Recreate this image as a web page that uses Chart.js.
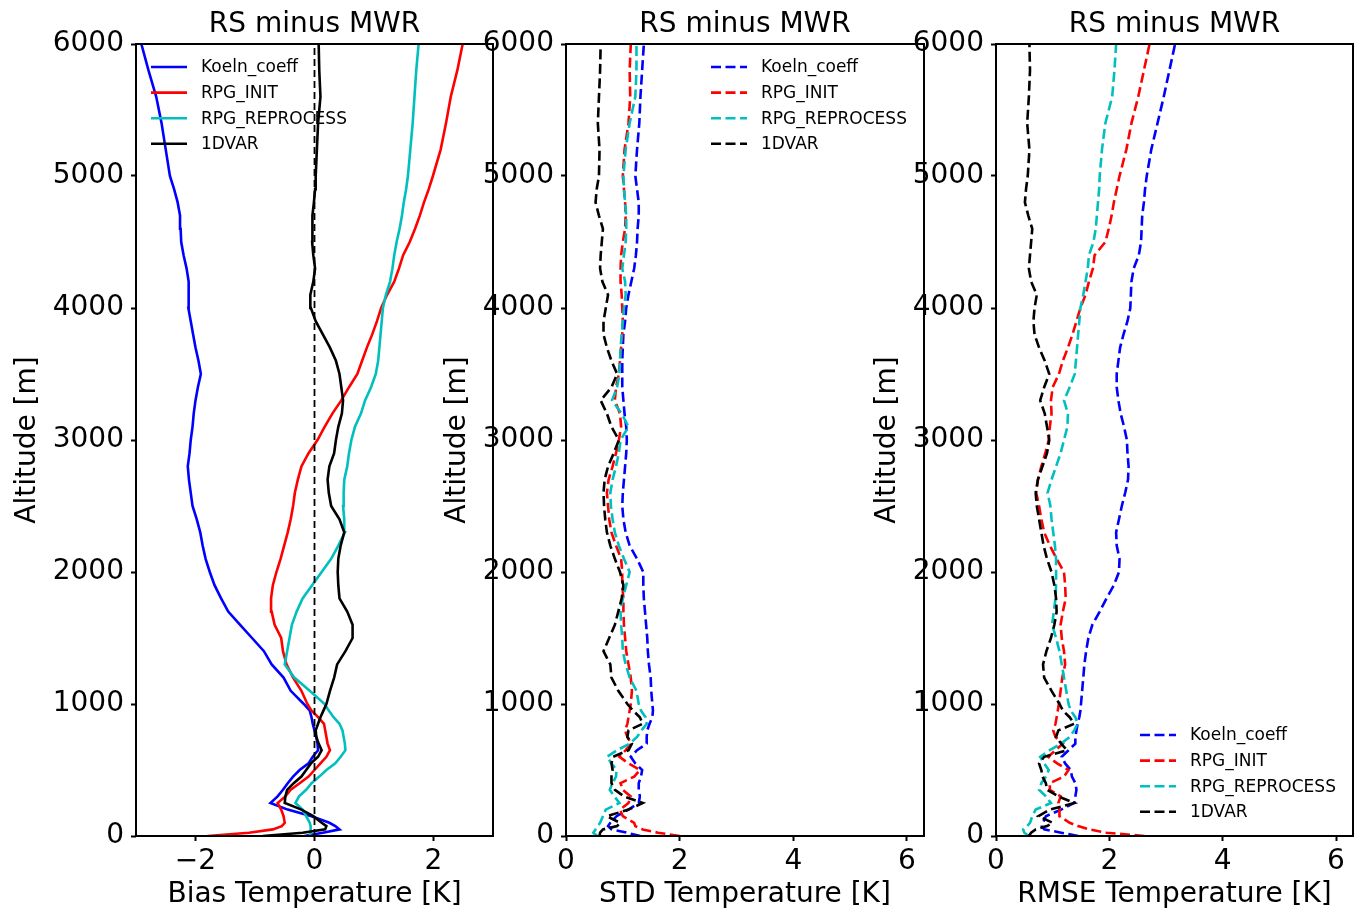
<!DOCTYPE html>
<html>
<head>
<meta charset="utf-8">
<script src="https://cdn.jsdelivr.net/npm/chart.js@4.4.0/dist/chart.umd.min.js"></script>
<style>
  html, body { margin: 0; padding: 0; background: #fff; }
  #wrap { position: relative; width: 1354px; height: 913px; overflow: hidden; }
  canvas { position: absolute; top: 0; }
</style>
</head>
<body>
<div id="wrap">
  <canvas id="bias" width="500" height="913" style="left:0px"></canvas>
  <canvas id="std" width="500" height="913" style="left:430px"></canvas>
  <canvas id="rmse" width="494" height="913" style="left:860px"></canvas>
</div>
<script>
// altitude levels [m]
const altitudes = [0, 25, 50, 75, 100, 150, 200, 250, 300, 350, 400, 450, 500, 550, 600, 650, 700, 750, 800, 850, 900, 950, 1000,
  1100, 1200, 1300, 1400, 1500, 1600, 1700, 1800, 1900, 2000,
  2100, 2200, 2300, 2400, 2500, 2600, 2700, 2800, 2900, 3000,
  3100, 3200, 3300, 3400, 3500, 3600, 3700, 3800, 3900, 4000,
  4100, 4200, 4300, 4400, 4500, 4600, 4700, 4800, 4900, 5000,
  5200, 5400, 5600, 5800, 6000];

const seriesNames = ['Koeln_coeff', 'RPG_INIT', 'RPG_REPROCESS', '1DVAR'];

// bias RS - MWR [K]
const biasKoeln = [-0.17, 0.14, 0.42, 0.35, 0.25, -0.05, -0.45, -0.74, -0.62, -0.53, -0.45, -0.36, -0.25, -0.10, -0.03, 0.06, 0.05, 0.03, 0.00, -0.03, -0.05, -0.08, -0.18,
  -0.40, -0.52, -0.72, -0.85, -1.05, -1.25, -1.45, -1.57, -1.68, -1.76,
  -1.83, -1.88, -1.92, -1.98, -2.05, -2.08, -2.11, -2.13, -2.10, -2.08,
  -2.05, -2.03, -2.00, -1.96, -1.91, -1.95, -2.00, -2.04, -2.08, -2.12,
  -2.12, -2.11, -2.15, -2.20, -2.24, -2.25, -2.26, -2.30, -2.36, -2.43,
  -2.50, -2.57, -2.66, -2.79, -2.91];
const biasInit = [-1.80, -1.10, -0.70, -0.55, -0.50, -0.52, -0.56, -0.62, -0.49, -0.40, -0.25, -0.10, 0.00, 0.10, 0.20, 0.26, 0.22, 0.20, 0.18, 0.16, 0.06, -0.05, -0.12,
  -0.22, -0.36, -0.47, -0.53, -0.56, -0.67, -0.72, -0.73, -0.70, -0.64,
  -0.57, -0.51, -0.45, -0.40, -0.36, -0.33, -0.28, -0.22, -0.10, 0.05,
  0.17, 0.30, 0.45, 0.58, 0.72, 0.80, 0.88, 0.97, 1.05, 1.12,
  1.22, 1.34, 1.42, 1.49, 1.60, 1.69, 1.77, 1.84, 1.92, 1.99,
  2.12, 2.21, 2.29, 2.40, 2.49];
const biasReproc = [-0.08, -0.07, -0.06, -0.07, -0.08, -0.14, -0.20, -0.32, -0.26, -0.14, -0.05, 0.08, 0.20, 0.35, 0.44, 0.52, 0.51, 0.49, 0.47, 0.42, 0.32, 0.24, 0.17,
  -0.08, -0.34, -0.50, -0.46, -0.42, -0.38, -0.30, -0.20, -0.04, 0.12,
  0.28, 0.40, 0.51, 0.50, 0.48, 0.49, 0.50, 0.55, 0.58, 0.62,
  0.68, 0.78, 0.85, 0.95, 1.03, 1.07, 1.09, 1.11, 1.13, 1.15,
  1.20, 1.27, 1.31, 1.34, 1.38, 1.43, 1.47, 1.50, 1.54, 1.57,
  1.61, 1.65, 1.68, 1.71, 1.75];
const bias1dvar = [-0.87, -0.20, 0.18, 0.20, 0.12, -0.02, -0.22, -0.50, -0.49, -0.46, -0.35, -0.22, -0.14, -0.06, 0.06, 0.12, 0.07, 0.03, 0.02, 0.06, 0.10, 0.15, 0.20,
  0.26, 0.33, 0.38, 0.52, 0.64, 0.64, 0.55, 0.42, 0.40, 0.39,
  0.40, 0.44, 0.50, 0.42, 0.28, 0.24, 0.22, 0.25, 0.33, 0.36,
  0.40, 0.46, 0.48, 0.45, 0.42, 0.36, 0.26, 0.14, 0.02, -0.06,
  -0.07, -0.02, 0.01, -0.02, -0.04, -0.04, -0.03, -0.01, 0.01, 0.02,
  0.04, 0.06, 0.10, 0.08, 0.07];

// standard deviation [K]
const stdKoeln = [1.31, 1.07, 0.80, 0.74, 0.78, 0.89, 1.10, 1.28, 1.30, 1.28, 1.28, 1.32, 1.34, 1.22, 1.14, 1.25, 1.42, 1.42, 1.43, 1.47, 1.52, 1.53, 1.52,
  1.50, 1.49, 1.46, 1.44, 1.43, 1.41, 1.39, 1.37, 1.36, 1.36,
  1.25, 1.12, 1.05, 1.01, 0.99, 1.00, 1.02, 1.04, 1.06, 1.07,
  1.06, 1.03, 1.01, 0.99, 0.99, 0.99, 1.00, 1.01, 1.04, 1.06,
  1.10, 1.15, 1.20, 1.23, 1.25, 1.26, 1.28, 1.28, 1.25, 1.22,
  1.25, 1.29, 1.31, 1.34, 1.37];
const stdInit = [2.00, 1.62, 1.35, 1.22, 1.20, 1.00, 0.95, 1.10, 1.14, 1.00, 0.96, 1.20, 1.30, 1.10, 0.94, 1.05, 1.15, 1.08, 1.04, 1.08, 1.10, 1.12, 1.14,
  1.16, 1.14, 1.10, 1.06, 1.04, 1.02, 1.01, 1.01, 0.99, 0.99,
  0.97, 0.88, 0.80, 0.76, 0.74, 0.72, 0.75, 0.82, 0.88, 0.93,
  0.97, 0.95, 0.86, 0.88, 0.93, 0.95, 0.97, 0.99, 1.00, 0.99,
  0.98, 0.96, 0.96, 0.97, 1.00, 1.04, 1.05, 1.04, 1.02, 1.00,
  1.03, 1.10, 1.13, 1.12, 1.14];
const stdReproc = [0.55, 0.48, 0.52, 0.56, 0.60, 0.65, 0.70, 0.94, 0.85, 0.77, 0.82, 0.88, 0.89, 0.80, 0.72, 0.90, 1.12, 1.25, 1.33, 1.42, 1.40, 1.32, 1.28,
  1.24, 1.12, 1.05, 1.00, 0.99, 0.97, 0.96, 1.00, 1.06, 1.12,
  1.02, 0.93, 0.86, 0.82, 0.79, 0.78, 0.82, 0.88, 0.93, 0.96,
  1.10, 0.98, 0.81, 0.90, 0.94, 0.95, 0.96, 0.98, 1.00, 1.02,
  1.05, 1.04, 0.99, 1.02, 1.05, 1.06, 1.06, 1.04, 1.02, 1.01,
  1.05, 1.12, 1.22, 1.24, 1.24];
const std1dvar = [0.59, 0.60, 0.65, 0.90, 0.95, 0.72, 1.10, 1.35, 1.02, 0.86, 0.80, 0.80, 0.82, 0.80, 0.83, 1.10, 1.16, 1.08, 1.10, 1.35, 1.30, 1.18, 1.08,
  0.92, 0.80, 0.78, 0.66, 0.76, 0.86, 0.92, 0.98, 1.01, 0.95,
  0.86, 0.78, 0.72, 0.69, 0.67, 0.66, 0.68, 0.74, 0.84, 0.93,
  0.80, 0.72, 0.61, 0.80, 0.90, 0.80, 0.72, 0.66, 0.66, 0.70,
  0.74, 0.64, 0.60, 0.61, 0.63, 0.65, 0.58, 0.52, 0.54, 0.58,
  0.59, 0.56, 0.58, 0.60, 0.61];

// root mean square error [K]
const rmseKoeln = [1.45, 1.15, 0.85, 0.81, 0.83, 0.88, 1.15, 1.38, 1.40, 1.42, 1.40, 1.34, 1.32, 1.22, 1.16, 1.28, 1.40, 1.40, 1.42, 1.44, 1.47, 1.49, 1.50,
  1.52, 1.54, 1.56, 1.59, 1.63, 1.70, 1.83, 1.95, 2.08, 2.17,
  2.18, 2.13, 2.12, 2.17, 2.22, 2.28, 2.33, 2.34, 2.32, 2.31,
  2.26, 2.20, 2.16, 2.13, 2.13, 2.16, 2.19, 2.25, 2.32, 2.37,
  2.38, 2.39, 2.43, 2.52, 2.56, 2.57, 2.58, 2.61, 2.63, 2.66,
  2.74, 2.85, 2.96, 3.06, 3.16];
const rmseInit = [2.62, 1.95, 1.65, 1.45, 1.30, 1.12, 1.12, 1.10, 1.14, 0.95, 0.95, 1.20, 1.28, 1.08, 0.92, 1.05, 1.18, 1.05, 1.01, 1.05, 1.07, 1.09, 1.11,
  1.14, 1.17, 1.22, 1.20, 1.16, 1.14, 1.18, 1.23, 1.22, 1.20,
  1.07, 0.95, 0.85, 0.80, 0.76, 0.71, 0.74, 0.80, 0.87, 0.93,
  0.95, 0.98, 0.97, 1.00, 1.11, 1.18, 1.27, 1.35, 1.42, 1.49,
  1.58, 1.64, 1.71, 1.74, 1.93, 1.99, 2.04, 2.08, 2.13, 2.18,
  2.30, 2.39, 2.51, 2.61, 2.71];
const rmseReproc = [0.58, 0.50, 0.48, 0.55, 0.60, 0.64, 0.70, 0.97, 0.88, 0.76, 0.80, 0.88, 0.93, 0.85, 0.78, 0.95, 1.15, 1.30, 1.38, 1.44, 1.40, 1.32, 1.28,
  1.24, 1.20, 1.16, 1.12, 1.06, 0.99, 1.02, 1.05, 1.06, 1.06,
  1.06, 1.04, 1.01, 0.98, 0.96, 0.91, 0.98, 1.06, 1.14, 1.20,
  1.26, 1.27, 1.20, 1.30, 1.39, 1.41, 1.43, 1.45, 1.47, 1.49,
  1.54, 1.58, 1.62, 1.64, 1.72, 1.76, 1.78, 1.80, 1.82, 1.83,
  1.87, 1.93, 2.05, 2.09, 2.12];
const rmse1dvar = [0.58, 0.62, 0.70, 0.90, 1.00, 0.75, 0.95, 1.38, 1.10, 0.90, 0.88, 0.82, 0.80, 0.76, 0.85, 1.25, 1.15, 1.06, 1.10, 1.38, 1.30, 1.18, 1.12,
  0.98, 0.85, 0.83, 0.89, 0.97, 1.03, 1.07, 1.06, 1.03, 0.98,
  0.90, 0.84, 0.80, 0.76, 0.72, 0.70, 0.74, 0.82, 0.90, 0.94,
  0.90, 0.86, 0.78, 0.85, 0.94, 0.86, 0.76, 0.68, 0.66, 0.68,
  0.72, 0.62, 0.58, 0.60, 0.62, 0.64, 0.57, 0.51, 0.53, 0.56,
  0.59, 0.55, 0.58, 0.60, 0.59];

const yTicks = [0, 1000, 2000, 3000, 4000, 5000, 6000];
const biasTicks = [-2, 0, 2];
const stdTicks = [0, 2, 4, 6];
const rmseTicks = [0, 2, 4, 6];
const zeroLine = [0, 0];
const zeroLineAlt = [0, 6000];

const FONT = 'DejaVu Sans';
const colors = ['#0000ff', '#ff0000', '#00bfbf', '#000000'];
Chart.defaults.font.family = FONT;
Chart.defaults.color = '#000';

const fmt = v => (v < 0 ? '\u2212' + Math.abs(v) : String(v));

// frame, title and in-axes legend (matplotlib look)
const decor = {
  id: 'decor',
  afterDraw(chart, args, opts) {
    const ctx = chart.ctx;
    const a = chart.chartArea;
    ctx.save();
    ctx.strokeStyle = '#000';
    ctx.lineWidth = 2;
    ctx.setLineDash([]);
    ctx.strokeRect(a.left, a.top, a.right - a.left, a.bottom - a.top);

    ctx.fillStyle = '#000';
    ctx.font = '28px "' + FONT + '"';
    ctx.textAlign = 'center';
    ctx.textBaseline = 'middle';
    ctx.fillText('RS minus MWR', (a.left + a.right) / 2, 25);

    const x0 = a.left + opts.dx;
    let y = opts.fromBottom ? a.bottom - opts.dy : a.top + opts.dy;
    ctx.font = '17px "' + FONT + '"';
    ctx.textAlign = 'left';
    chart.data.datasets.forEach(ds => {
      if (!seriesNames.includes(ds.label)) return;
      ctx.strokeStyle = ds.borderColor;
      ctx.lineWidth = ds.borderWidth;
      ctx.setLineDash(ds.borderDash || []);
      ctx.beginPath();
      ctx.moveTo(x0, y);
      ctx.lineTo(x0 + 36, y);
      ctx.stroke();
      ctx.fillStyle = '#000';
      ctx.fillText(ds.label, x0 + 50, y + 1);
      y += 25.6;
    });
    ctx.restore();
  }
};

function makePanel(id, xTitle, xMin, xMax, xTicks, series, dashed, rightPad, legendPos, extra) {
  const datasets = series.map((vals, k) => ({
    label: seriesNames[k],
    data: altitudes.map((alt, i) => ({ x: vals[i], y: alt })),
    borderColor: colors[k],
    borderWidth: 2.6,
    borderDash: dashed ? [10, 4.5] : [],
    pointRadius: 0,
    fill: false,
    tension: 0,
    order: 4 - k
  }));
  if (extra) datasets.push(extra);

  new Chart(document.getElementById(id), {
    type: 'line',
    data: { datasets: datasets },
    plugins: [decor],
    options: {
      responsive: false,
      devicePixelRatio: 1,
      animation: false,
      events: [],
      layout: { padding: { left: 0, right: rightPad, top: 44, bottom: 0 } },
      plugins: {
        legend: { display: false },
        tooltip: { enabled: false },
        decor: legendPos
      },
      scales: {
        x: {
          type: 'linear',
          min: xMin,
          max: xMax,
          afterBuildTicks: s => { s.ticks = xTicks.map(v => ({ value: v })); },
          afterFit: s => { s.height = 77; },
          grid: { drawOnChartArea: false, drawTicks: true, tickLength: 5, tickWidth: 2, tickColor: '#000' },
          border: { display: false },
          ticks: { font: { size: 28 }, color: '#000', padding: 4, maxRotation: 0, callback: v => fmt(v) },
          title: { display: true, text: xTitle, font: { size: 28 }, color: '#000', padding: { top: 0, bottom: 1 } }
        },
        y: {
          type: 'linear',
          min: 0,
          max: 6000,
          afterBuildTicks: s => { s.ticks = yTicks.map(v => ({ value: v })); },
          afterFit: s => { s.width = 136; },
          grid: { drawOnChartArea: false, drawTicks: true, tickLength: 5, tickWidth: 2, tickColor: '#000' },
          border: { display: false },
          ticks: { font: { size: 28 }, color: '#000', padding: 7, callback: v => String(v) },
          title: { display: true, text: 'Altitude [m]', font: { size: 28 }, color: '#000', padding: { top: 11, bottom: 0 } }
        }
      }
    }
  });
}

makePanel('bias', 'Bias Temperature [K]', -3, 3, biasTicks,
  [biasKoeln, biasInit, biasReproc, bias1dvar], false, 7,
  { dx: 15, dy: 23, fromBottom: false },
  {
    label: 'zero',
    data: zeroLine.map((v, i) => ({ x: v, y: zeroLineAlt[i] })),
    borderColor: '#000',
    borderWidth: 1.8,
    borderDash: [7, 4],
    pointRadius: 0,
    order: 0
  });

makePanel('std', 'STD Temperature [K]', 0, 6.3, stdTicks,
  [stdKoeln, stdInit, stdReproc, std1dvar], true, 6,
  { dx: 145, dy: 23, fromBottom: false });

makePanel('rmse', 'RMSE Temperature [K]', 0, 6.3, rmseTicks,
  [rmseKoeln, rmseInit, rmseReproc, rmse1dvar], true, 1,
  { dx: 144, dy: 101, fromBottom: true });
</script>
</body>
</html>
